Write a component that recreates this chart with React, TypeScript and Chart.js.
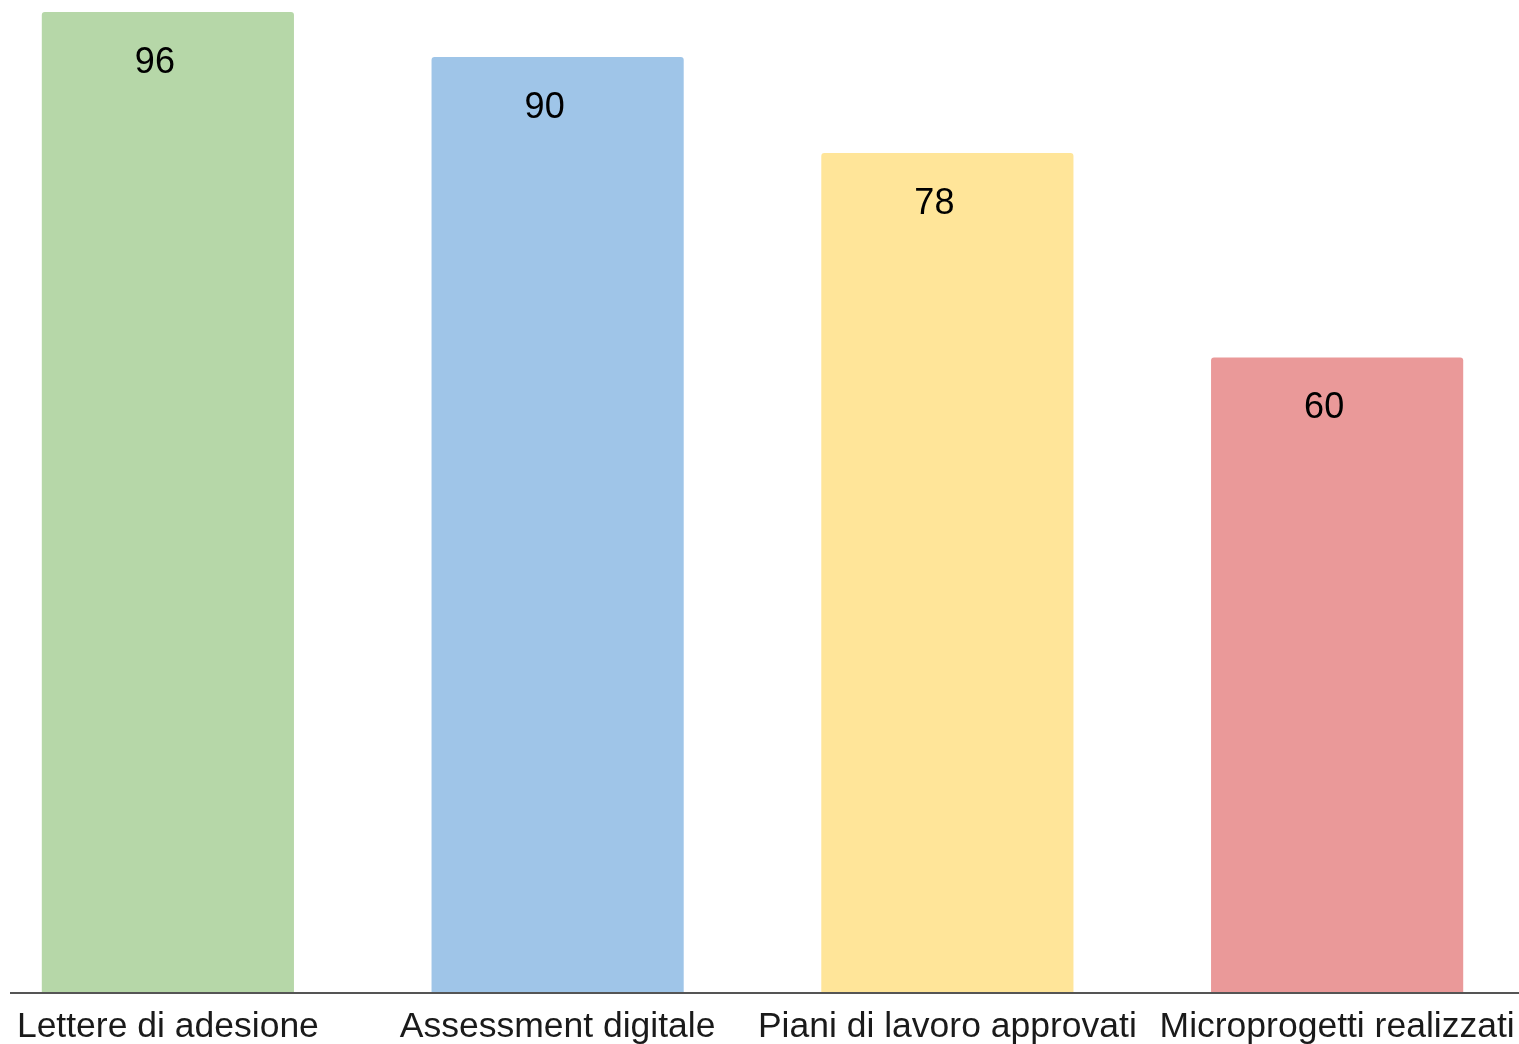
import React, { useEffect, useRef } from "react";
import { Chart, registerables } from "chart.js";

Chart.register(...registerables);

const categories = [
  "Lettere di adesione",
  "Assessment digitale",
  "Piani di lavoro approvati",
  "Microprogetti realizzati",
];
// bar heights as drawn in the picture (axis 0..96)
const barValues = [96, 91.6, 82.2, 62.2];
// numbers printed on the bars
const valueLabels = ["96", "90", "78", "60"];
const barColors = ["#b6d7a8", "#9fc5e8", "#ffe599", "#ea9999"];

const CANVAS_LEFT = -27;
const CANVAS_W = 1559;
const CANVAS_H = 1044;
const AXIS_H = 51;

const valueLabelPlugin = {
  id: "valueLabels",
  afterDatasetsDraw(chart: any) {
    const ctx = chart.ctx;
    const meta = chart.getDatasetMeta(0);
    ctx.save();
    ctx.font = "36px 'Liberation Sans', Arial, sans-serif";
    ctx.fillStyle = "#000000";
    ctx.textAlign = "center";
    ctx.textBaseline = "middle";
    meta.data.forEach((bar: any, i: number) => {
      ctx.fillText(valueLabels[i], bar.x - 13, bar.y + 51);
    });
    ctx.restore();
  },
};

const axisLinePlugin = {
  id: "axisLine",
  afterDraw(chart: any) {
    const ctx = chart.ctx;
    const y = chart.chartArea.bottom;
    ctx.save();
    ctx.strokeStyle = "#555555";
    ctx.lineWidth = 2;
    ctx.beginPath();
    ctx.moveTo(10 - CANVAS_LEFT, y);
    ctx.lineTo(chart.width, y);
    ctx.stroke();
    ctx.restore();
  },
};

export default function App() {
  const ref = useRef<HTMLCanvasElement | null>(null);

  useEffect(() => {
    if (!ref.current) return;
    const chart = new Chart(ref.current, {
      type: "bar",
      data: {
        labels: categories,
        datasets: [
          {
            data: barValues,
            backgroundColor: barColors,
            borderWidth: 0,
            borderRadius: { topLeft: 3, topRight: 3, bottomLeft: 0, bottomRight: 0 },
            borderSkipped: "bottom",
            barPercentage: 0.647,
            categoryPercentage: 1,
          },
        ],
      },
      options: {
        responsive: false,
        animation: false,
        devicePixelRatio: 1,
        layout: { padding: { top: 12, left: 0, right: 0, bottom: 0 } },
        plugins: {
          legend: { display: false },
          tooltip: { enabled: false },
          title: { display: false },
        },
        scales: {
          x: {
            grid: { display: false, drawTicks: false },
            border: { display: false },
            ticks: {
              color: "#1a1a1a",
              font: { family: "'Liberation Sans', Arial, sans-serif", size: 35.5 },
              padding: 13,
              maxRotation: 0,
              autoSkip: false,
            },
            afterFit(scale: any) {
              scale.height = AXIS_H;
            },
          },
          y: {
            display: false,
            min: 0,
            max: 96,
          },
        },
      },
      plugins: [valueLabelPlugin, axisLinePlugin],
    });
    return () => chart.destroy();
  }, []);

  return (
    <div
      style={{
        position: "fixed",
        left: 0,
        top: 0,
        width: 1519,
        height: 1044,
        overflow: "hidden",
        background: "#ffffff",
      }}
    >
      <canvas
        ref={ref}
        width={CANVAS_W}
        height={CANVAS_H}
        style={{ position: "absolute", left: CANVAS_LEFT, top: 0, width: CANVAS_W, height: CANVAS_H }}
      />
    </div>
  );
}
